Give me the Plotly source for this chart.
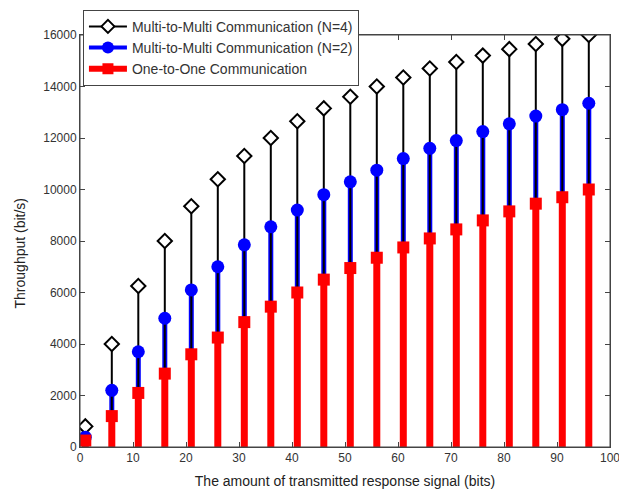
import plotly.graph_objects as go

x_bits = [1, 6, 11, 16, 21, 26, 31, 36, 41, 46, 51, 56, 61, 66, 71, 76, 81, 86, 91, 96]
multi_n4 = [800, 4000, 6250, 8000, 9350, 10400, 11300, 12000, 12650, 13150,
            13600, 14000, 14350, 14700, 14950, 15200, 15450, 15650, 15850, 16000]
multi_n2 = [380, 2200, 3700, 5000, 6100, 7000, 7850, 8550, 9200, 9800,
            10300, 10750, 11200, 11600, 11900, 12250, 12550, 12850, 13100, 13350]
one_to_one = [250, 1200, 2100, 2850, 3600, 4250, 4850, 5450, 6000, 6500,
              6950, 7350, 7750, 8100, 8450, 8800, 9150, 9450, 9700, 10000]

names = ["Multi-to-Multi Communication (N=4)",
         "Multi-to-Multi Communication (N=2)",
         "One-to-One Communication"]
x_title = "The amount of transmitted response signal (bits)"
y_title = "Throughput (bit/s)"


def stems(xs, ys):
    sx, sy = [], []
    for a, b in zip(xs, ys):
        sx += [a, a, None]
        sy += [0, b, None]
    return sx, sy


fig = go.Figure()

# legend-only entries
fig.add_trace(go.Scatter(x=[None], y=[None], mode="lines+markers", name=names[0],
                         line=dict(color="black", width=2),
                         marker=dict(symbol="diamond", size=10, color="white",
                                     line=dict(color="black", width=2))))
fig.add_trace(go.Scatter(x=[None], y=[None], mode="lines+markers", name=names[1],
                         line=dict(color="blue", width=4),
                         marker=dict(symbol="circle", size=12, color="blue")))
fig.add_trace(go.Scatter(x=[None], y=[None], mode="lines+markers", name=names[2],
                         line=dict(color="red", width=6),
                         marker=dict(symbol="square", size=11, color="red")))

# blue stems (bottom)
sx, sy = stems(x_bits, multi_n2)
fig.add_trace(go.Scatter(x=sx, y=sy, mode="lines", showlegend=False,
                         line=dict(color="blue", width=5), hoverinfo="skip"))
# black stems
sx, sy = stems(x_bits, multi_n4)
fig.add_trace(go.Scatter(x=sx, y=sy, mode="lines", showlegend=False,
                         line=dict(color="black", width=2), hoverinfo="skip"))
fig.add_trace(go.Scatter(x=x_bits, y=multi_n4, mode="markers", showlegend=False,
                         marker=dict(symbol="diamond", size=11, color="white",
                                     line=dict(color="black", width=2))))
fig.add_trace(go.Scatter(x=x_bits, y=multi_n2, mode="markers", showlegend=False,
                         marker=dict(symbol="circle", size=13, color="blue")))
# red stems (top)
sx, sy = stems(x_bits, one_to_one)
fig.add_trace(go.Scatter(x=sx, y=sy, mode="lines", showlegend=False,
                         line=dict(color="red", width=7), hoverinfo="skip"))
fig.add_trace(go.Scatter(x=x_bits, y=one_to_one, mode="markers", showlegend=False,
                         marker=dict(symbol="square", size=12, color="red")))

axis_common = dict(showgrid=False, zeroline=False, showline=True, linecolor="#444",
                   linewidth=1, mirror="ticks", ticks="inside", ticklen=5,
                   tickcolor="#444", tickfont=dict(size=12, color="#333"),
                   automargin=True, ticklabeloverflow="allow")

fig.update_xaxes(range=[0, 100], dtick=10, tick0=0, tickformat="d",
                 title=dict(text=x_title, font=dict(size=14, color="#222"), standoff=11),
                 **axis_common)
fig.update_yaxes(range=[0, 16000], dtick=2000, tick0=0, tickformat="d",
                 **axis_common)

fig.add_annotation(text=y_title, textangle=-90, showarrow=False,
                   xref="paper", yref="paper", x=-0.113, y=0.47,
                   xanchor="center", yanchor="middle",
                   font=dict(size=14, color="#222"))

fig.add_shape(type="rect", xref="paper", yref="paper", x0=0, y0=0, x1=1, y1=1,
              line=dict(color="#444", width=1), layer="above")

fig.update_layout(
    width=619, height=490,
    margin=dict(l=80, r=9, t=35, b=43, autoexpand=False),
    paper_bgcolor="white", plot_bgcolor="white",
    font=dict(family="Arial, Liberation Sans, sans-serif", color="#333"),
    showlegend=True,
    legend=dict(xref="container", yref="container", x=0.134, y=0.98,
                xanchor="left", yanchor="top",
                bgcolor="white", bordercolor="#444", borderwidth=1,
                font=dict(size=14, color="#333"), tracegroupgap=0,
                itemwidth=38),
)

fig.write_html("out.html", config={"displayModeBar": False},
               post_script="document.body.style.margin='0';")
